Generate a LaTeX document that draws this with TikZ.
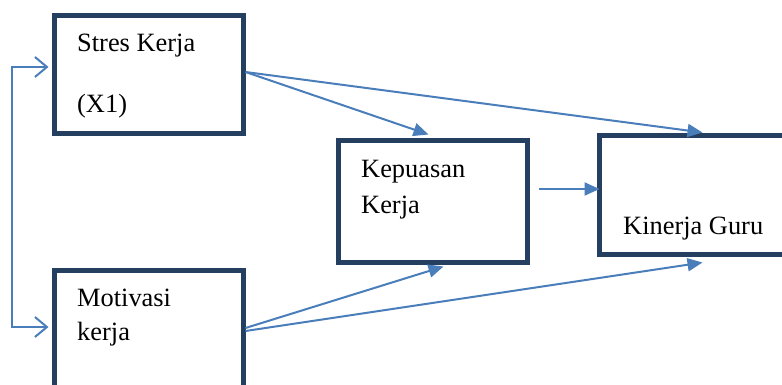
\documentclass[tikz,border=0pt]{standalone}
\usepackage{fontspec}
\setmainfont{Liberation Serif}
\usetikzlibrary{arrows.meta,calc}
\definecolor{boxblue}{HTML}{243F60}
\definecolor{arrblue}{HTML}{4A7EBB}
\begin{document}
\begin{tikzpicture}[x=1pt,y=-1pt,
  box/.style={draw=boxblue,line width=5pt,fill=white,inner sep=0pt},
  lbl/.style={anchor=base west,inner sep=0pt,font=\fontsize{26.4}{30}\selectfont},
  conn/.style={draw=arrblue,line width=2pt,-{Triangle[length=15pt,width=13pt]}},
  barb/.style={draw=arrblue,line width=2pt,{Straight Barb[length=12pt,width=20pt,line width=2pt]}-{Straight Barb[length=12pt,width=20pt,line width=2pt]}}]
\useasboundingbox (0,0) rectangle (782,385);
% boxes
\node[box,minimum width=189pt,minimum height=118pt] (b1) at (148.5,75) {};
\node[box,minimum width=189pt,minimum height=130pt] (b2) at (148.5,335) {};
\node[box,minimum width=189pt,minimum height=121pt] (b3) at (432.5,201.5) {};
\node[box,minimum width=191pt,minimum height=118pt] (b4) at (694.5,195) {};
% texts
\node[lbl] (t1a) at (77,52) {Stres Kerja};
\node[lbl] (t1b) at (77,113) {(X1)};
\node[lbl] (t2a) at (77,306) {Motivasi};
\node[lbl] (t2b) at (77,340) {kerja};
\node[lbl] (t3a) at (361,178) {Kepuasan};
\node[lbl] (t3b) at (361,213) {Kerja};
\node[lbl] (t4) at (623,234) {Kinerja Guru};
% bracket
\coordinate (k1) at (12,67);
\coordinate (k2) at (12,327);
\draw[barb] ($(b1.west)+(-3,-8)$) -- (k1) -- (k2) -- ($(b2.west)+(-3,-8)$);
% connectors
\draw[conn] ($(b1.east)+(0,-3)$) -- ($(b3.north)+(-4,-4)$);
\draw[conn] ($(b1.east)+(0,-3)$) -- ($(b4.north)+(8,-1)$);
\draw[conn] ($(b2.east)+(0,-7)$) -- ($(b3.south)+(11,2)$);
\draw[conn] ($(b2.east)+(0,-4)$) -- ($(b4.south)+(8,6)$);
\draw[conn] ($(b3.east)+(9,-12.5)$) -- ($(b4.west)+(3,-6)$);
\end{tikzpicture}
\end{document}
